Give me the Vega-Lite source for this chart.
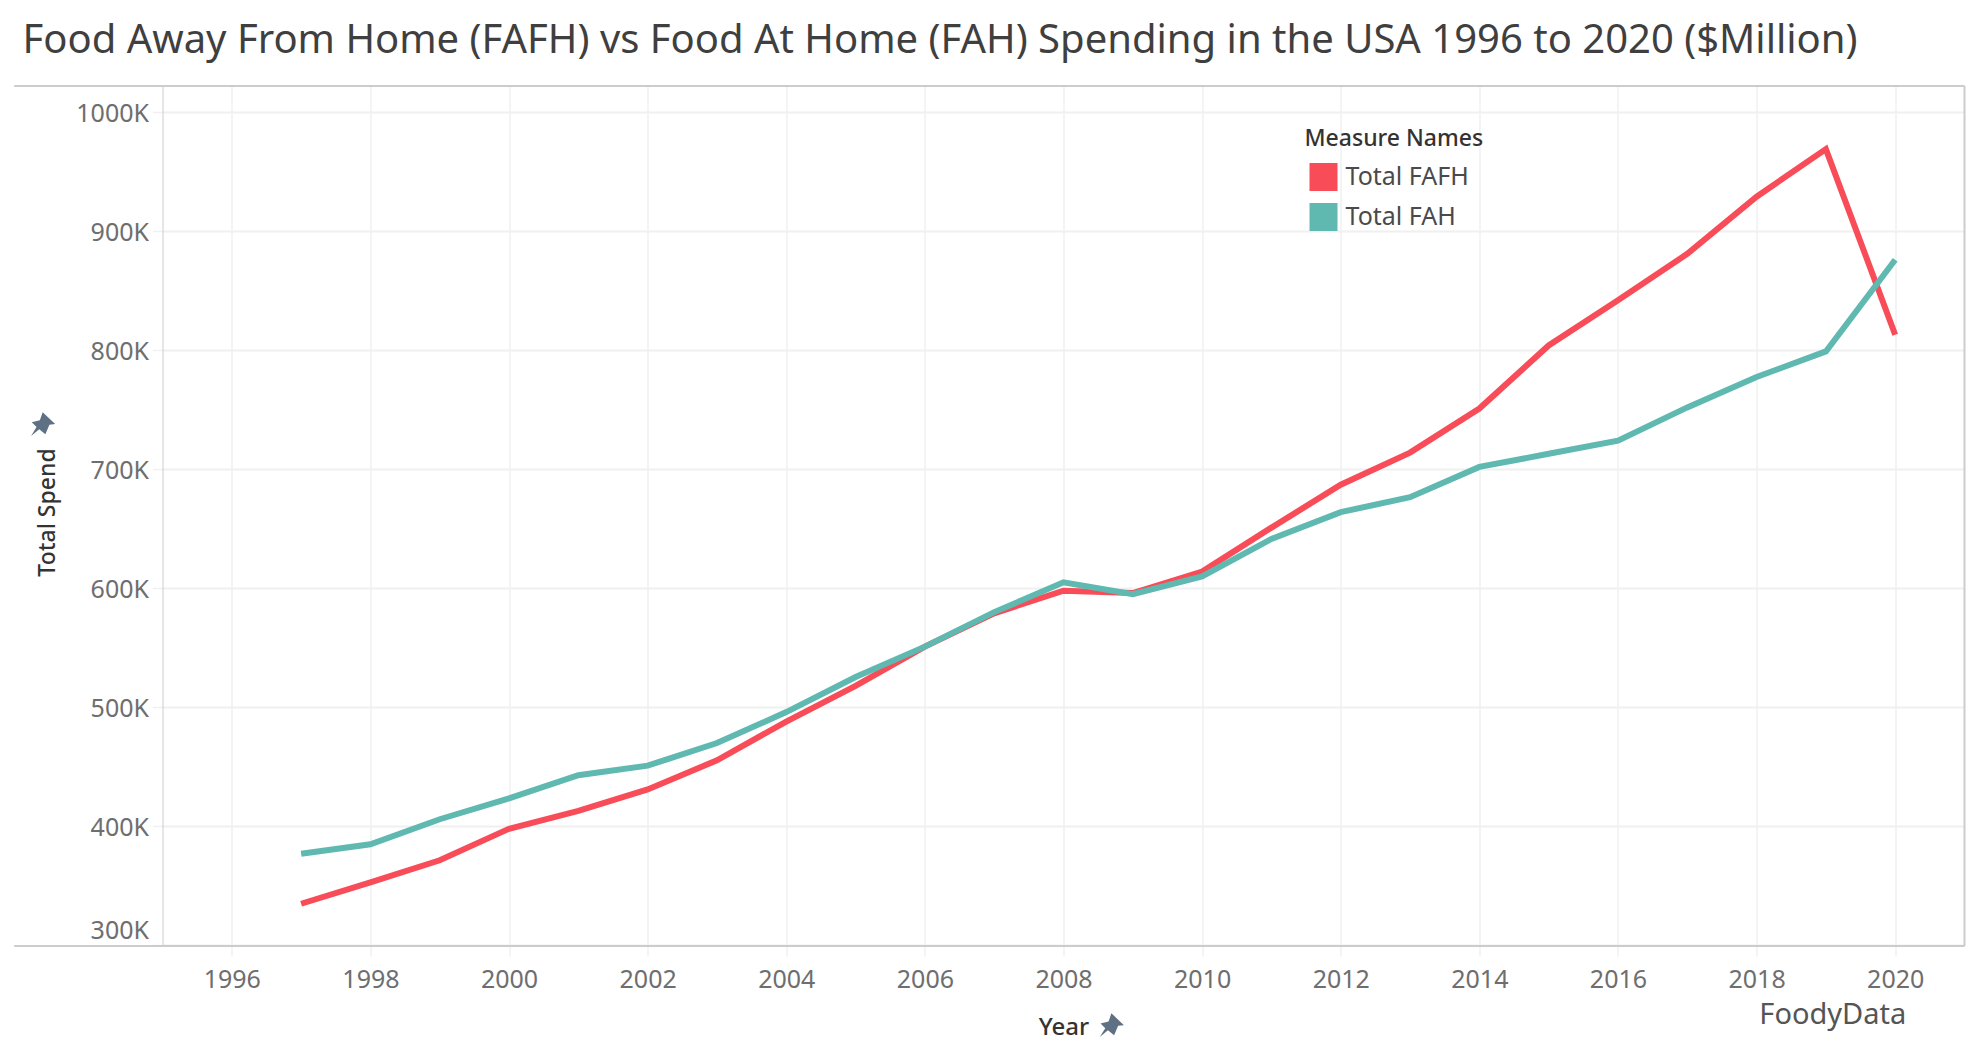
{"$schema":"https://vega.github.io/schema/vega-lite/v6.json","width":1802,"height":860,"padding":{"left":162.5,"top":86,"right":19,"bottom":118},"autosize":"none","background":"white","title":{"text":"Food Away From Home (FAFH) vs Food At Home (FAH) Spending in the USA 1996 to 2020 ($Million)","anchor":"start","frame":"group","dx":-140,"offset":24,"fontSize":40,"fontWeight":"normal","font":"Noto Sans","color":"#3f3f3f"},"config":{"view":{"stroke":null},"font":"Noto Sans"},"datasets":{"series":[{"Year":1997,"Measure":"Total FAFH","Spend":335000},{"Year":1998,"Measure":"Total FAFH","Spend":353000},{"Year":1999,"Measure":"Total FAFH","Spend":371500},{"Year":2000,"Measure":"Total FAFH","Spend":398000},{"Year":2001,"Measure":"Total FAFH","Spend":413000},{"Year":2002,"Measure":"Total FAFH","Spend":431000},{"Year":2003,"Measure":"Total FAFH","Spend":455500},{"Year":2004,"Measure":"Total FAFH","Spend":488000},{"Year":2005,"Measure":"Total FAFH","Spend":518000},{"Year":2006,"Measure":"Total FAFH","Spend":551000},{"Year":2007,"Measure":"Total FAFH","Spend":579000},{"Year":2008,"Measure":"Total FAFH","Spend":598000},{"Year":2009,"Measure":"Total FAFH","Spend":596000},{"Year":2010,"Measure":"Total FAFH","Spend":614000},{"Year":2011,"Measure":"Total FAFH","Spend":651000},{"Year":2012,"Measure":"Total FAFH","Spend":687000},{"Year":2013,"Measure":"Total FAFH","Spend":714000},{"Year":2014,"Measure":"Total FAFH","Spend":751000},{"Year":2015,"Measure":"Total FAFH","Spend":804000},{"Year":2016,"Measure":"Total FAFH","Spend":842000},{"Year":2017,"Measure":"Total FAFH","Spend":881000},{"Year":2018,"Measure":"Total FAFH","Spend":929000},{"Year":2019,"Measure":"Total FAFH","Spend":969000},{"Year":2020,"Measure":"Total FAFH","Spend":813000},{"Year":1997,"Measure":"Total FAH","Spend":377000},{"Year":1998,"Measure":"Total FAH","Spend":385000},{"Year":1999,"Measure":"Total FAH","Spend":406000},{"Year":2000,"Measure":"Total FAH","Spend":423500},{"Year":2001,"Measure":"Total FAH","Spend":443000},{"Year":2002,"Measure":"Total FAH","Spend":451000},{"Year":2003,"Measure":"Total FAH","Spend":470000},{"Year":2004,"Measure":"Total FAH","Spend":496000},{"Year":2005,"Measure":"Total FAH","Spend":525500},{"Year":2006,"Measure":"Total FAH","Spend":551000},{"Year":2007,"Measure":"Total FAH","Spend":580000},{"Year":2008,"Measure":"Total FAH","Spend":605000},{"Year":2009,"Measure":"Total FAH","Spend":595000},{"Year":2010,"Measure":"Total FAH","Spend":610000},{"Year":2011,"Measure":"Total FAH","Spend":641500},{"Year":2012,"Measure":"Total FAH","Spend":664000},{"Year":2013,"Measure":"Total FAH","Spend":676500},{"Year":2014,"Measure":"Total FAH","Spend":702000},{"Year":2015,"Measure":"Total FAH","Spend":713000},{"Year":2016,"Measure":"Total FAH","Spend":724000},{"Year":2017,"Measure":"Total FAH","Spend":752000},{"Year":2018,"Measure":"Total FAH","Spend":777500},{"Year":2019,"Measure":"Total FAH","Spend":799000},{"Year":2020,"Measure":"Total FAH","Spend":876000}],"one":[{"n":1}]},"layer":[{"data":{"name":"series"},"mark":{"type":"line","strokeWidth":6,"strokeCap":"butt","strokeJoin":"miter"},"encoding":{"x":{"field":"Year","type":"quantitative","scale":{"domain":[1995,2021],"nice":false,"zero":false},"axis":{"values":[1996,1998,2000,2002,2004,2006,2008,2010,2012,2014,2016,2018,2020],"format":"d","title":"Year","titleFont":"Noto Sans","titleFontSize":24,"titleFontWeight":500,"titleColor":"#333333","titlePadding":23,"labelFontSize":25,"labelColor":"#6e6e6e","labelPadding":11,"tickSize":10,"tickColor":"#f0f0f0","tickWidth":1.5,"domain":false,"gridColor":"#f0f0f0","gridWidth":1.5,"labelFlush":false}},"y":{"field":"Spend","type":"quantitative","scale":{"domain":[299500,1022000],"nice":false,"zero":false},"axis":{"values":[300000,400000,500000,600000,700000,800000,900000,1000000],"labelExpr":"(datum.value/1000)+'K'","title":"Total Spend","titleFont":"Noto Sans","titleFontSize":23,"titleFontWeight":500,"titleColor":"#333333","titlePadding":16,"titleY":426,"labelFontSize":25,"labelColor":"#6e6e6e","labelPadding":4,"labelOffset":{"condition":{"test":"datum.value==300000","value":-15},"value":1},"tickSize":10,"tickColor":"#f0f0f0","tickWidth":1.5,"domain":true,"domainColor":"#cccccc","domainWidth":1,"gridColor":"#f0f0f0","gridWidth":2,"labelFlush":false}},"stroke":{"field":"Measure","type":"nominal","scale":{"domain":["Total FAFH","Total FAH"],"range":["#f84c58","#5fb9b0"]},"legend":{"orient":"none","legendX":1142,"legendY":42,"title":"Measure Names","titleFont":"Noto Sans","titleFontSize":23,"titleFontWeight":500,"titleColor":"#333333","titlePadding":12,"labelFont":"Noto Sans","labelFontSize":25,"labelColor":"#4a4a4a","symbolType":"stroke","symbolSize":784,"symbolStrokeWidth":28,"rowPadding":12,"clipHeight":28,"labelOffset":-6,"symbolOffset":-9}},"order":{"field":"Year"}}},{"data":{"name":"one"},"mark":{"type":"rule","color":"#cccccc","strokeWidth":2,"clip":false},"encoding":{"x":{"datum":1992.86},"x2":{"datum":2021},"y":{"datum":1022000}}},{"data":{"name":"one"},"mark":{"type":"rule","color":"#cccccc","strokeWidth":2,"clip":false},"encoding":{"x":{"datum":1992.86},"x2":{"datum":2021},"y":{"datum":299500}}},{"data":{"name":"one"},"mark":{"type":"rule","color":"#cccccc","strokeWidth":2,"clip":false},"encoding":{"x":{"datum":2021},"y":{"datum":299500},"y2":{"datum":1022000}}},{"data":{"name":"one"},"mark":{"type":"text","font":"Noto Sans","fontSize":29,"color":"#555555","align":"center","baseline":"middle","clip":false},"encoding":{"x":{"datum":2019.1},"y":{"datum":241700},"text":{"value":"FoodyData"}}},{"data":{"name":"one"},"mark":{"type":"point","filled":true,"color":"#5e7083","opacity":1,"size":600,"shape":"M-0.05,-0.97 L0.97,0 L0.5,0.05 L0.17,0.83 L-0.33,0.42 L-1,0.97 L-0.55,0.25 L-0.94,-0.14 L-0.28,-0.3 Z","clip":false},"encoding":{"x":{"datum":2008.7},"y":{"datum":233000}}},{"data":{"name":"one"},"mark":{"type":"point","filled":true,"color":"#5e7083","opacity":1,"size":600,"shape":"M-0.05,-0.97 L0.97,0 L0.5,0.05 L0.17,0.83 L-0.33,0.42 L-1,0.97 L-0.55,0.25 L-0.94,-0.14 L-0.28,-0.3 Z","clip":false},"encoding":{"x":{"datum":1993.28},"y":{"datum":738000}}}],"resolve":{"legend":{"stroke":"independent"}}}
